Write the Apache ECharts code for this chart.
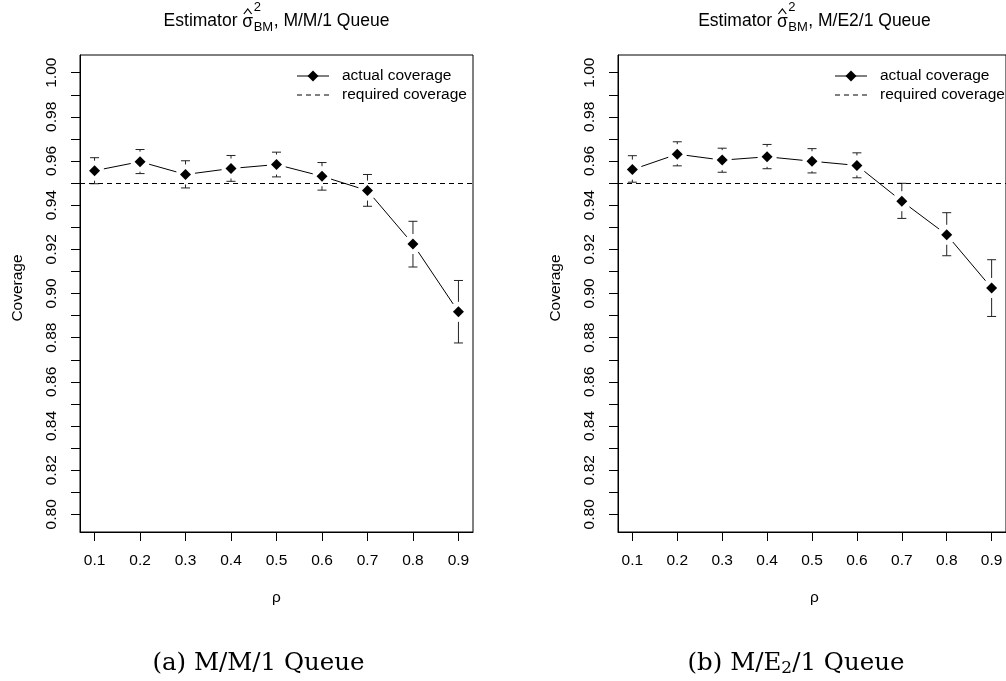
<!DOCTYPE html>
<html>
<head>
<meta charset="utf-8">
<script src="https://cdn.jsdelivr.net/npm/echarts@6/dist/echarts.min.js"></script>
<style>
  html, body { margin: 0; padding: 0; background: #fff; }
  #chart { width: 1006px; height: 681px; }
</style>
</head>
<body>
<div id="chart"></div>
<script>
// ---------------- data ----------------
const RHO = [0.1, 0.2, 0.3, 0.4, 0.5, 0.6, 0.7, 0.8, 0.9];

const MM1_COVERAGE = [0.9556, 0.9597, 0.9539, 0.9566, 0.9584, 0.9531, 0.9466, 0.9224, 0.8917];
const MM1_UPPER    = [0.9615, 0.9652, 0.9601, 0.9625, 0.9640, 0.9593, 0.9539, 0.9327, 0.9059];
const MM1_LOWER    = [0.9497, 0.9543, 0.9478, 0.9508, 0.9528, 0.9468, 0.9395, 0.9120, 0.8776];

const ME21_COVERAGE = [0.9561, 0.9631, 0.9604, 0.9619, 0.9599, 0.9580, 0.9418, 0.9266, 0.9025];
const ME21_UPPER    = [0.9624, 0.9687, 0.9658, 0.9675, 0.9656, 0.9637, 0.9499, 0.9366, 0.9153];
const ME21_LOWER    = [0.9504, 0.9578, 0.9549, 0.9565, 0.9546, 0.9524, 0.9340, 0.9171, 0.8896];

const REQUIRED_COVERAGE = 0.95;

const X_TICKS = [0.1, 0.2, 0.3, 0.4, 0.5, 0.6, 0.7, 0.8, 0.9];
const Y_TICKS = [0.80, 0.81, 0.82, 0.83, 0.84, 0.85, 0.86, 0.87, 0.88, 0.89, 0.90,
                 0.91, 0.92, 0.93, 0.94, 0.95, 0.96, 0.97, 0.98, 0.99, 1.00];
const Y_LABELS = [0.80, 0.82, 0.84, 0.86, 0.88, 0.90, 0.92, 0.94, 0.96, 0.98, 1.00];

const LEGEND_LABELS = ['actual coverage', 'required coverage'];
const TITLE_QUEUES = ['M/M/1 Queue', 'M/E2/1 Queue'];
const X_NAME = 'ρ';
const Y_NAME = 'Coverage';

// ---------------- styling ----------------
const SANS = '"Liberation Sans", Arial, Helvetica, sans-serif';
const SERIF = '"DejaVu Serif", "Liberation Serif", serif';
const FS = 15.5;
const GAP_BAR = 10;   // gap (px) around each point on error bars
const GAP_LINE = 9.5; // gap (px) around each point on connecting lines
const CAP = 4.5;

const measureCtx = document.createElement('canvas').getContext('2d');
function textWidth(str, size, family) {
  measureCtx.font = size + 'px ' + family;
  return measureCtx.measureText(str).width;
}

function lineRender(params, api) {
  const a = api.coord([api.value(0), api.value(1)]);
  const b = api.coord([api.value(2), api.value(3)]);
  const dx = b[0] - a[0], dy = b[1] - a[1];
  const len = Math.sqrt(dx * dx + dy * dy);
  if (len <= 2 * GAP_LINE) return null;
  const ux = dx / len, uy = dy / len;
  return {
    type: 'line',
    shape: { x1: a[0] + ux * GAP_LINE, y1: a[1] + uy * GAP_LINE,
             x2: b[0] - ux * GAP_LINE, y2: b[1] - uy * GAP_LINE },
    style: { stroke: '#000', lineWidth: 1 }
  };
}

function errRender(params, api) {
  const x = api.value(0);
  const pLo = api.coord([x, api.value(1)]);
  const pHi = api.coord([x, api.value(2)]);
  const p = api.coord([x, api.value(3)]);
  const st = { stroke: '#222', lineWidth: 1 };
  const ch = [];
  if (p[1] - GAP_BAR > pHi[1]) {
    ch.push({ type: 'line', shape: { x1: p[0], y1: pHi[1], x2: p[0], y2: p[1] - GAP_BAR }, style: st });
  }
  if (p[1] + GAP_BAR < pLo[1]) {
    ch.push({ type: 'line', shape: { x1: p[0], y1: p[1] + GAP_BAR, x2: p[0], y2: pLo[1] }, style: st });
  }
  ch.push({ type: 'line', shape: { x1: p[0] - CAP, y1: pHi[1], x2: p[0] + CAP, y2: pHi[1] }, style: st });
  ch.push({ type: 'line', shape: { x1: p[0] - CAP, y1: pLo[1], x2: p[0] + CAP, y2: pLo[1] }, style: st });
  return { type: 'group', children: ch };
}

const GRIDS = [
  { left: 80, top: 55, width: 393, height: 477 },
  { left: 618, top: 55, width: 393, height: 477 }
];

const SETS = [
  { cov: MM1_COVERAGE, lo: MM1_LOWER, hi: MM1_UPPER },
  { cov: ME21_COVERAGE, lo: ME21_LOWER, hi: ME21_UPPER }
];

const xAxes = [], yAxes = [], series = [], graphics = [];

SETS.forEach(function (set, i) {
  xAxes.push({
    type: 'value', gridIndex: i, min: 0.068, max: 0.932,
    splitLine: { show: false },
    axisLine: { show: true, onZero: false, lineStyle: { color: '#000', width: 1 } },
    axisTick: { show: true, length: 9, customValues: X_TICKS, lineStyle: { color: '#000', width: 1 } },
    axisLabel: { customValues: X_TICKS, formatter: function (v) { return v.toFixed(1); },
                 margin: 21, fontSize: FS, color: '#000', fontFamily: SANS }
  });
  yAxes.push({
    type: 'value', gridIndex: i, min: 0.792, max: 1.008,
    splitLine: { show: false },
    axisLine: { show: true, onZero: false, lineStyle: { color: '#000', width: 1 } },
    axisTick: { show: true, length: 9, customValues: Y_TICKS, lineStyle: { color: '#000', width: 1 } },
    axisLabel: { customValues: Y_LABELS, rotate: 90, formatter: function (v) { return v.toFixed(2); },
                 margin: 20, fontSize: FS, color: '#000', fontFamily: SANS }
  });

  const segs = [];
  for (let k = 0; k < RHO.length - 1; k++) {
    segs.push([RHO[k], set.cov[k], RHO[k + 1], set.cov[k + 1]]);
  }
  series.push({
    type: 'custom', xAxisIndex: i, yAxisIndex: i, renderItem: lineRender,
    data: segs, silent: true, z: 3
  });
  series.push({
    type: 'custom', xAxisIndex: i, yAxisIndex: i, renderItem: errRender,
    data: RHO.map(function (r, k) { return [r, set.lo[k], set.hi[k], set.cov[k]]; }),
    silent: true, z: 3
  });
  series.push({
    type: 'scatter', xAxisIndex: i, yAxisIndex: i,
    symbol: 'diamond', symbolSize: 11,
    itemStyle: { color: '#000', opacity: 1 },
    data: RHO.map(function (r, k) { return [r, set.cov[k]]; }),
    silent: true, z: 4,
    markLine: {
      silent: true, symbol: 'none', label: { show: false },
      lineStyle: { color: '#000', width: 1, type: [5, 4], opacity: 1 },
      data: [{ yAxis: REQUIRED_COVERAGE }]
    }
  });

  const g = GRIDS[i];
  const cx = g.left + g.width / 2;

  // ---- title: Estimator σ̂²_BM, <queue> ----
  const T = 17.5, S = 13;
  const w1 = textWidth('Estimator ', T, SANS);
  const ws = textWidth('σ', T, SANS);
  const wsub = Math.max(textWidth('BM', S, SANS), textWidth('2', S, SANS));
  const tail = ', ' + TITLE_QUEUES[i];
  const w2 = textWidth(tail, T, SANS);
  const total = w1 + ws + wsub + 1 + w2;
  let x0 = cx - total / 2;
  const ty = 21;
  graphics.push({ type: 'text', x: x0, y: ty, style: { text: 'Estimator ', font: T + 'px ' + SANS, fill: '#000', align: 'left', verticalAlign: 'middle' } });
  const sx = x0 + w1;
  graphics.push({ type: 'text', x: sx, y: ty + 1, style: { text: 'σ', font: T + 'px ' + SANS, fill: '#000', align: 'left', verticalAlign: 'middle' } });
  graphics.push({ type: 'polyline', shape: { points: [[sx + 1.5, 14], [sx + ws / 2, 9], [sx + ws - 1.5, 14]] }, style: { stroke: '#000', lineWidth: 1.2, fill: null } });
  const bx = sx + ws + 0.5;
  graphics.push({ type: 'text', x: bx, y: 7.5, style: { text: '2', font: S + 'px ' + SANS, fill: '#000', align: 'left', verticalAlign: 'middle' } });
  graphics.push({ type: 'text', x: bx, y: 27.5, style: { text: 'BM', font: S + 'px ' + SANS, fill: '#000', align: 'left', verticalAlign: 'middle' } });
  graphics.push({ type: 'text', x: bx + wsub + 0.5, y: ty, style: { text: tail, font: T + 'px ' + SANS, fill: '#000', align: 'left', verticalAlign: 'middle' } });

  // ---- axis names ----
  graphics.push({ type: 'text', x: cx, y: 598, style: { text: X_NAME, font: FS + 'px ' + SANS, fill: '#000', align: 'center', verticalAlign: 'middle' } });
  graphics.push({ type: 'text', x: g.left - 62, y: 288, rotation: Math.PI / 2,
                  style: { text: Y_NAME, font: FS + 'px ' + SANS, fill: '#000', align: 'center', verticalAlign: 'middle' } });

  // ---- legend ----
  const lx = g.left + 217, ly1 = 76, ly2 = 95;
  graphics.push({ type: 'line', shape: { x1: lx, y1: ly1, x2: lx + 32, y2: ly1 }, style: { stroke: '#000', lineWidth: 1 } });
  graphics.push({ type: 'polygon', shape: { points: [[lx + 16, ly1 - 5.5], [lx + 21.5, ly1], [lx + 16, ly1 + 5.5], [lx + 10.5, ly1]] }, style: { fill: '#000' } });
  graphics.push({ type: 'line', shape: { x1: lx, y1: ly2, x2: lx + 32, y2: ly2 }, style: { stroke: '#000', lineWidth: 1, lineDash: [5, 4] } });
  graphics.push({ type: 'text', x: lx + 45, y: ly1, style: { text: LEGEND_LABELS[0], font: FS + 'px ' + SANS, fill: '#000', align: 'left', verticalAlign: 'middle' } });
  graphics.push({ type: 'text', x: lx + 45, y: ly2, style: { text: LEGEND_LABELS[1], font: FS + 'px ' + SANS, fill: '#000', align: 'left', verticalAlign: 'middle' } });
});

// ---- captions ----
(function () {
  const C = 24.5, CS = 17;
  const capY = 664;
  const capA = '(a) M/M/1 Queue';
  graphics.push({ type: 'text', x: 258.5, y: capY, style: { text: capA, font: C + 'px ' + SERIF, fill: '#000', align: 'center', verticalAlign: 'middle' } });
  const p1 = '(b) M/E', p2 = '2', p3 = '/1 Queue';
  const w1 = textWidth(p1, C, SERIF), w2 = textWidth(p2, CS, SERIF), w3 = textWidth(p3, C, SERIF);
  const x0 = 796 - (w1 + w2 + w3) / 2;
  graphics.push({ type: 'text', x: x0, y: capY, style: { text: p1, font: C + 'px ' + SERIF, fill: '#000', align: 'left', verticalAlign: 'middle' } });
  graphics.push({ type: 'text', x: x0 + w1, y: capY + 5, style: { text: p2, font: CS + 'px ' + SERIF, fill: '#000', align: 'left', verticalAlign: 'middle' } });
  graphics.push({ type: 'text', x: x0 + w1 + w2, y: capY, style: { text: p3, font: C + 'px ' + SERIF, fill: '#000', align: 'left', verticalAlign: 'middle' } });
})();

const chart = echarts.init(document.getElementById('chart'), null, { renderer: 'canvas' });
chart.setOption({
  animation: false,
  backgroundColor: '#fff',
  grid: GRIDS.map(function (g) {
    return Object.assign({ show: true, borderColor: '#000', borderWidth: 1, backgroundColor: 'transparent', containLabel: false }, g);
  }),
  xAxis: xAxes,
  yAxis: yAxes,
  series: series,
  graphic: graphics
});
</script>
</body>
</html>
